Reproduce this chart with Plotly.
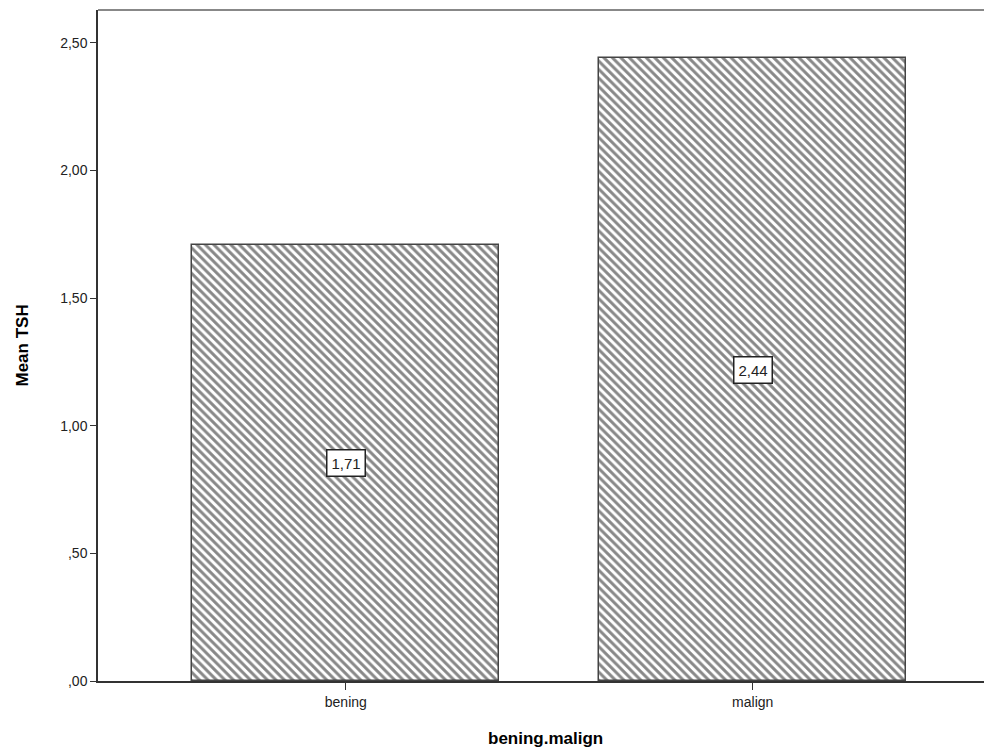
import plotly.graph_objects as go

categories = ["bening", "malign"]
mean_tsh = [1.71, 2.44]
y_tick_vals = [0, 0.5, 1.0, 1.5, 2.0, 2.5]
y_tick_text = [",00", ",50", "1,00", "1,50", "2,00", "2,50"]

OFF = 8  # page body margin
W, H = 992 - OFF, 754 - OFF
ML, MR, MT, MB = 98 - OFF, 0, 10 - OFF, 73
plot_w = W - ML - MR
plot_h = H - MT - MB

fig = go.Figure()
fig.add_trace(go.Bar(
    x=[0, 1], y=mean_tsh, width=0.754,
    marker=dict(
        color="white",
        line=dict(color="#444444", width=1.5),
        pattern=dict(shape="\\", size=6, solidity=0.5, fgcolor="#111111", bgcolor="white"),
    ),
    hoverinfo="skip",
))

for i, v in enumerate(mean_tsh):
    fig.add_annotation(
        x=i, y=v / 2, xref="x", yref="y",
        text=f"{v:.2f}".replace(".", ","),
        showarrow=False, bgcolor="white", bordercolor="#222", borderwidth=1.5,
        borderpad=4, font=dict(family="Liberation Sans, Arial", size=15, color="#222"),
    )

fig.add_annotation(
    x=(22 - 98) / plot_w, y=0.5, xref="paper", yref="paper",
    xanchor="center", yanchor="middle",
    text="<b>Mean TSH</b>", textangle=-90, showarrow=False,
    font=dict(family="Liberation Sans, Arial", size=17, color="black"),
)
fig.add_annotation(
    x=0.5, y=-(738 - 681) / plot_h, xref="paper", yref="paper",
    xanchor="center", yanchor="middle",
    text="<b>bening.malign</b>", showarrow=False,
    font=dict(family="Liberation Sans, Arial", size=17, color="black"),
)

# top frame line
fig.add_shape(type="line", xref="paper", yref="paper", x0=0, x1=1, y0=1, y1=1,
              line=dict(color="#888888", width=2))

fig.update_layout(
    width=W, height=H,
    margin=dict(l=ML, r=MR, t=MT, b=MB),
    plot_bgcolor="white", paper_bgcolor="white",
    showlegend=False, bargap=0,
    font=dict(family="Liberation Sans, Arial", size=14, color="#222"),
)
fig.update_xaxes(
    range=[-0.609, 1.588], tickvals=[0, 1], ticktext=categories,
    showline=True, linecolor="#333333", linewidth=1.5,
    ticks="outside", ticklen=7, tickcolor="#333333",
    showgrid=False, zeroline=False, fixedrange=True,
    tickfont=dict(size=14),
)
fig.update_yaxes(
    range=[0, 2.629], tickvals=y_tick_vals, ticktext=y_tick_text,
    showline=True, linecolor="#333333", linewidth=1.5,
    ticks="outside", ticklen=6, tickcolor="#333333",
    showgrid=False, zeroline=False, fixedrange=True,
    tickfont=dict(size=14),
)

fig.write_html("out.html")
